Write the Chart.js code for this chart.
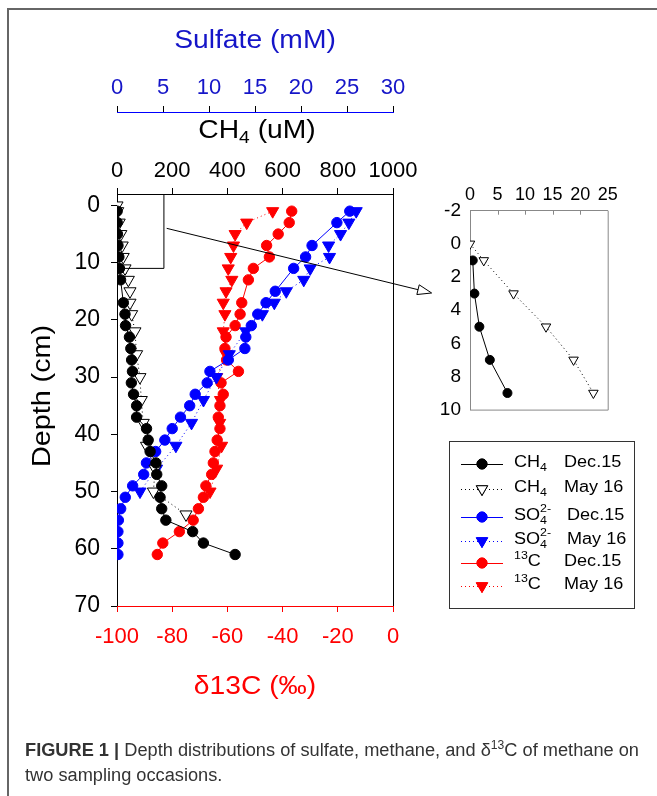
<!DOCTYPE html>
<html>
<head>
<meta charset="utf-8">
<script src="https://cdn.jsdelivr.net/npm/chart.js@4.4.1/dist/chart.umd.min.js"></script>
<style>
  body { margin: 0; background: #fff; width: 657px; height: 796px; position: relative; overflow: hidden;
         font-family: 'Liberation Sans', Arial, sans-serif; }
  #frame { position: absolute; left: 7px; top: 8px; width: 700px; height: 900px;
           border-top: 2px solid #666; border-left: 2px solid #666; }
  #main { position: absolute; left: 0; top: 0; }
  #inset { position: absolute; left: 420px; top: 170px; }
  .cap { position: absolute; left: 25px; font-size: 18px; color: #333; white-space: nowrap; transform-origin: 0 0; }
  .cap sup { font-size: 12px; line-height: 0; }
</style>
</head>
<body>
<div id="frame"></div>
<canvas id="main" width="657" height="796"></canvas>
<canvas id="inset" width="237" height="260"></canvas>
<div class="cap" id="cap1" style="top:740px"><b>FIGURE 1 |</b> Depth distributions of sulfate, methane, and δ<sup>13</sup>C of methane on</div>
<div class="cap" id="cap2" style="top:765px">two sampling occasions.</div>

<script>
// tick labels
const depthTicks = [0, 10, 20, 30, 40, 50, 60, 70];
const ch4Ticks = [0, 200, 400, 600, 800, 1000];
const sulfateTicks = [0, 5, 10, 15, 20, 25, 30];
const d13cTicks = [-100, -80, -60, -40, -20, 0];
const insetXTicks = [0, 5, 10, 15, 20, 25];
const insetYTicks = [-2, 0, 2, 4, 6, 8, 10];

// CH4 (uM)
const ch4DecDepth = [1, 3, 5, 7, 9, 11, 13, 17, 19, 21, 23, 25, 27, 29, 31, 33, 35, 37, 39, 41, 43, 45, 47, 49, 51, 53, 55, 57, 59, 61];
const ch4DecValue = [0.5, 0.8, 1.7, 3.6, 6.8, 9, 13, 23, 29, 31, 45, 50, 53, 56, 52, 60, 71, 71, 107, 113, 120, 141, 144, 162, 156, 162, 177, 274, 313, 428];
const ch4MayDepth = [0, 1, 3, 5, 7, 9, 11, 13, 15, 17, 19, 22, 26, 30, 34, 38, 42, 46, 50, 54];
const ch4MayValue = [0, 2.5, 7.9, 13.8, 18.8, 22.4, 29, 41, 47, 47, 53, 65, 71, 83, 88, 95, 107, 138, 132, 250];

// sulfate (mM)
const so4DecDepth = [1, 3, 7, 9, 11, 15, 17, 19, 21, 23, 25, 27, 29, 31, 33, 35, 37, 39, 41, 43, 45, 47, 49, 51, 53, 55, 57, 59, 61];
const so4DecValue = [25.3, 23.9, 21.2, 20.5, 19.2, 17.2, 16.2, 15.3, 14.6, 14.0, 13.9, 12.1, 10.1, 9.8, 8.5, 7.9, 6.9, 6.0, 5.2, 4.2, 3.2, 2.9, 1.7, 0.9, 0.4, 0.15, 0.1, 0.1, 0.1];
const so4MayDepth = [1, 3, 5, 7, 9, 11, 13, 15, 17, 19, 22, 26, 30, 34, 38, 42, 46, 50];
const so4MayValue = [26.0, 25.2, 24.3, 23.0, 23.1, 21.0, 20.3, 18.4, 17.1, 15.8, 14.0, 12.2, 10.8, 9.4, 8.1, 6.4, 4.3, 2.5];

// d13C of methane (permil)
const d13cDecDepth = [1, 3, 5, 7, 9, 11, 13, 17, 19, 21, 23, 25, 27, 29, 31, 33, 35, 37, 39, 41, 43, 45, 47, 49, 51, 53, 55, 57, 59, 61];
const d13cDecValue = [-36.7, -37.6, -41.6, -45.8, -44.8, -50.6, -52.4, -54.8, -55.4, -57.2, -60.5, -60.9, -60.3, -56, -62.3, -61.5, -62.7, -63.3, -62.7, -63.7, -64.5, -65.1, -65.7, -67.8, -68.7, -70.5, -72.4, -77.4, -83.4, -85.4];
const d13cMayDepth = [1, 3, 5, 7, 9, 11, 13, 15, 17, 19, 22, 26, 30, 34, 38, 42, 46, 50];
const d13cMayValue = [-43.6, -53, -57.2, -57.8, -58.8, -59.7, -58.4, -60.5, -61.5, -60.9, -61.5, -60.5, -63.9, -62.5, -62.8, -62.1, -63.9, -66.3];

// zoom box and arrow, in CH4 / depth units of the main plot
const zoomBox = { ch4: 170, depth: 11 };
const arrowFrom = { ch4: 180, depth: 4 };
const arrowTo = { ch4: 1140, depth: 15.3 };

const legendSpecies = ['CH4', 'CH4', 'SO4', 'SO4', '13C', '13C'];
const legendDates = ['Dec.15', 'May 16', 'Dec.15', 'May 16', 'Dec.15', 'May 16'];

const FONT = "'Liberation Sans', Arial, sans-serif";
const BLUE = '#0000ff';
const RED = '#ff0000';
const BLACK = '#000000';
const SX = 1.13; // text in the figure is a bit wider than Arial

function pts(depths, values) {
    return depths.map((d, i) => ({ x: values[i], y: d }));
}

function series(label, depths, values, axis, color, may, small) {
    return {
        label: label,
        data: pts(depths, values),
        xAxisID: axis,
        yAxisID: axis === 'ix' ? 'iy' : 'depth',
        showLine: true,
        borderColor: color,
        borderWidth: 1,
        borderDash: may ? [1, 3] : [],
        pointStyle: may ? 'triangle' : 'circle',
        pointRotation: may ? 180 : 0,
        pointRadius: may ? (small ? 5.5 : 7) : (small ? 4.5 : 5.2),
        pointBackgroundColor: (may && color === BLACK) ? '#fff' : color,
        pointBorderColor: color,
        pointBorderWidth: 1
    };
}

function fixHeight(h) { return s => { s.height = h; }; }
function fixWidth(w) { return s => { s.width = w; }; }
function useTicks(list) { return s => { s.ticks = list.map(v => ({ value: v })); }; }
const plain = v => String(v);

function drawRich(ctx, segs, x, y, color, center) {
    ctx.save();
    ctx.fillStyle = color;
    ctx.textBaseline = 'middle';
    ctx.textAlign = 'left';
    let w = 0;
    segs.forEach(s => {
        ctx.font = s.size + 'px ' + FONT;
        s.w = ctx.measureText(s.text).width;
        if (!s.noAdvance) w += s.w;
    });
    ctx.translate(x, y);
    ctx.scale(SX, 1);
    let cx = center ? -w / 2 : 0;
    segs.forEach(s => {
        ctx.font = s.size + 'px ' + FONT;
        ctx.fillText(s.text, cx, s.dy || 0);
        if (!s.noAdvance) cx += s.w;
    });
    ctx.restore();
}

function speciesSegs(sp, size) {
    const small = Math.round(size * 0.68);
    if (sp === 'CH4') return [{ text: 'CH', size }, { text: '4', size: small, dy: 5 }];
    if (sp === 'SO4') return [{ text: 'SO', size }, { text: '4', size: small, dy: 5, noAdvance: true }, { text: '2-', size: small, dy: -7 }];
    return [{ text: '13', size: small, dy: -6 }, { text: 'C', size }];
}

function drawMarker(ctx, x, y, color, may) {
    ctx.save();
    ctx.lineWidth = 1;
    ctx.strokeStyle = color;
    ctx.fillStyle = (may && color === BLACK) ? '#fff' : color;
    Chart.helpers.drawPoint(ctx, { pointStyle: may ? 'triangle' : 'circle', rotation: may ? 180 : 0, radius: may ? 6.5 : 5, borderWidth: 1 }, x, y);
    ctx.fill();
    ctx.stroke();
    ctx.restore();
}

const mainDecor = {
    id: 'mainDecor',
    afterDatasetsDraw(chart) {
        const ctx = chart.ctx;
        const a = chart.chartArea;
        const xs = chart.scales.ch4;
        const ys = chart.scales.depth;
        ctx.save();
        ctx.strokeStyle = BLACK;
        ctx.lineWidth = 1;
        // right frame
        ctx.beginPath();
        ctx.moveTo(a.right + 0.5, a.top);
        ctx.lineTo(a.right + 0.5, a.bottom);
        ctx.stroke();
        // zoom box
        const bx = xs.getPixelForValue(zoomBox.ch4);
        const by = ys.getPixelForValue(zoomBox.depth);
        ctx.beginPath();
        ctx.moveTo(a.left, by);
        ctx.lineTo(bx, by);
        ctx.lineTo(bx, a.top);
        ctx.stroke();
        // arrow
        const x1 = xs.getPixelForValue(arrowFrom.ch4), y1 = ys.getPixelForValue(arrowFrom.depth);
        const x2 = xs.getPixelForValue(arrowTo.ch4), y2 = ys.getPixelForValue(arrowTo.depth);
        const ang = Math.atan2(y2 - y1, x2 - x1);
        const L = 14, W = 5;
        const bxh = x2 - L * Math.cos(ang), byh = y2 - L * Math.sin(ang);
        ctx.beginPath();
        ctx.moveTo(x1, y1);
        ctx.lineTo(bxh, byh);
        ctx.stroke();
        ctx.beginPath();
        ctx.moveTo(x2, y2);
        ctx.lineTo(bxh + W * Math.sin(ang), byh - W * Math.cos(ang));
        ctx.lineTo(bxh - W * Math.sin(ang), byh + W * Math.cos(ang));
        ctx.closePath();
        ctx.fillStyle = '#fff';
        ctx.fill();
        ctx.stroke();
        ctx.restore();

        // axis titles
        const cx = (a.left + a.right) / 2;
        drawRich(ctx, [{ text: 'Sulfate (mM)', size: 25 }], cx, 41, '#1515c8', true);
        drawRich(ctx, [{ text: 'CH', size: 25 }, { text: '4', size: 17, dy: 7 }, { text: ' (uM)', size: 25 }], cx + 2, 131, BLACK, true);
        drawRich(ctx, [{ text: 'δ13C (‰)', size: 25 }], cx, 687, RED, true);
        ctx.save();
        ctx.translate(43, 396);
        ctx.rotate(-Math.PI / 2);
        ctx.scale(1.15 / SX, 1);
        drawRich(ctx, [{ text: 'Depth (cm)', size: 25 }], 0, 0, BLACK, true);
        ctx.restore();

        // legend
        const colors = [BLACK, BLACK, BLUE, BLUE, RED, RED];
        const rowsY = [464, 489, 517, 541, 563, 586];
        ctx.save();
        ctx.strokeStyle = '#333';
        ctx.lineWidth = 1;
        ctx.strokeRect(449.5, 441.5, 185, 167);
        ctx.restore();
        rowsY.forEach((y, i) => {
            const may = i % 2 === 1;
            ctx.save();
            ctx.strokeStyle = colors[i];
            ctx.lineWidth = 1;
            ctx.setLineDash(may ? [1, 3] : []);
            ctx.beginPath();
            ctx.moveTo(461, y + 0.5);
            ctx.lineTo(503, y + 0.5);
            ctx.stroke();
            ctx.restore();
            drawMarker(ctx, 482, y, colors[i], may);
            drawRich(ctx, speciesSegs(legendSpecies[i], 16), 514, y - 1, BLACK, false);
            drawRich(ctx, [{ text: legendDates[i], size: 16 }], legendSpecies[i] === 'SO4' ? 567 : 564, y - 1, BLACK, false);
        });
    }
};

const tickFont = { family: FONT, size: 22 };

new Chart(document.getElementById('main'), {
    type: 'scatter',
    data: {
        datasets: [
            series('CH4 Dec.15', ch4DecDepth, ch4DecValue, 'ch4', BLACK, false),
            series('CH4 May 16', ch4MayDepth, ch4MayValue, 'ch4', BLACK, true),
            series('SO4 Dec.15', so4DecDepth, so4DecValue, 'so4', BLUE, false),
            series('SO4 May 16', so4MayDepth, so4MayValue, 'so4', BLUE, true),
            series('13C Dec.15', d13cDecDepth, d13cDecValue, 'd13c', RED, false),
            series('13C May 16', d13cMayDepth, d13cMayValue, 'd13c', RED, true)
        ]
    },
    options: {
        responsive: false,
        animation: false,
        layout: { padding: { left: 0, top: 60, right: 264, bottom: 130 } },
        plugins: { legend: { display: false }, tooltip: { enabled: false } },
        scales: {
            depth: {
                type: 'linear', position: 'left', reverse: true, min: -2, max: 70,
                afterBuildTicks: useTicks(depthTicks), afterFit: fixWidth(117),
                grid: { drawOnChartArea: false, tickLength: 6, color: BLACK },
                border: { color: BLACK, width: 1 },
                ticks: { color: BLACK, font: { family: FONT, size: 23 }, padding: 11, autoSkip: false, callback: plain }
            },
            ch4: {
                type: 'linear', position: 'top', weight: 1, min: 0, max: 1000,
                afterBuildTicks: useTicks(ch4Ticks), afterFit: fixHeight(82),
                grid: { drawOnChartArea: false, tickLength: 6, color: BLACK },
                border: { color: BLACK, width: 1 },
                ticks: { color: BLACK, font: tickFont, padding: 4, maxRotation: 0, autoSkip: false, callback: plain }
            },
            so4: {
                type: 'linear', position: 'top', weight: 2, min: 0, max: 30,
                afterBuildTicks: useTicks(sulfateTicks), afterFit: fixHeight(52),
                grid: { drawOnChartArea: false, tickLength: 6, color: BLACK },
                border: { color: BLUE, width: 1 },
                ticks: { color: '#1515c8', font: tickFont, padding: 5, maxRotation: 0, autoSkip: false, callback: plain }
            },
            d13c: {
                type: 'linear', position: 'bottom', min: -100, max: 0,
                afterBuildTicks: useTicks(d13cTicks), afterFit: fixHeight(60),
                grid: { drawOnChartArea: false, tickLength: 6, color: RED },
                border: { color: RED, width: 1 },
                ticks: { color: RED, font: tickFont, padding: 12, maxRotation: 0, autoSkip: false, callback: plain }
            }
        }
    },
    plugins: [mainDecor]
});

// inset: the top 10 cm of the CH4 profiles
const insetDecor = {
    id: 'insetDecor',
    afterDraw(chart) {
        const ctx = chart.ctx;
        const a = chart.chartArea;
        const xs = chart.scales.ix;
        ctx.save();
        ctx.strokeStyle = '#888';
        ctx.lineWidth = 1;
        ctx.beginPath();
        ctx.moveTo(a.right + 0.5, a.top);
        ctx.lineTo(a.right + 0.5, a.bottom + 0.5);
        ctx.lineTo(a.left, a.bottom + 0.5);
        insetXTicks.slice(1, -1).forEach(v => {
            const px = Math.round(xs.getPixelForValue(v)) + 0.5;
            ctx.moveTo(px, a.top);
            ctx.lineTo(px, a.top + 4);
        });
        ctx.stroke();
        ctx.restore();
    }
};

const shallow = (depths, values) => {
    const d = [], v = [];
    depths.forEach((x, i) => { if (x <= 10) { d.push(x); v.push(values[i]); } });
    return [d, v];
};
const [insDecD, insDecV] = shallow(ch4DecDepth, ch4DecValue);
const [insMayD, insMayV] = shallow(ch4MayDepth, ch4MayValue);

new Chart(document.getElementById('inset'), {
    type: 'scatter',
    data: {
        datasets: [
            series('CH4 May 16', insMayD, insMayV, 'ix', BLACK, true, true),
            series('CH4 Dec.15', insDecD, insDecV, 'ix', BLACK, false, true)
        ]
    },
    options: {
        responsive: false,
        animation: false,
        layout: { padding: { left: 0, top: 0, right: 49.3, bottom: 12 } },
        plugins: { legend: { display: false }, tooltip: { enabled: false } },
        scales: {
            iy: {
                type: 'linear', position: 'left', reverse: true, min: -2, max: 10,
                afterBuildTicks: useTicks(insetYTicks), afterFit: fixWidth(50),
                grid: { drawOnChartArea: false, drawTicks: false },
                border: { color: '#888', width: 1 },
                ticks: { color: BLACK, font: { family: FONT, size: 19 }, padding: 9, autoSkip: false, callback: plain }
            },
            ix: {
                type: 'linear', position: 'top', min: 0, max: 25,
                afterBuildTicks: useTicks(insetXTicks), afterFit: fixHeight(40.7),
                grid: { drawOnChartArea: false, drawTicks: false },
                border: { color: '#888', width: 1 },
                ticks: { color: BLACK, font: { family: FONT, size: 18 }, padding: 5, maxRotation: 0, autoSkip: false, callback: plain }
            }
        }
    },
    plugins: [insetDecor]
});

// caption, squeezed to the width of the original text block
const cap1 = document.getElementById('cap1');
const cap2 = document.getElementById('cap2');
const k = 614 / cap1.getBoundingClientRect().width;
cap1.style.transform = 'scaleX(' + k + ')';
cap2.style.transform = 'scaleX(' + k + ')';
</script>
</body>
</html>
